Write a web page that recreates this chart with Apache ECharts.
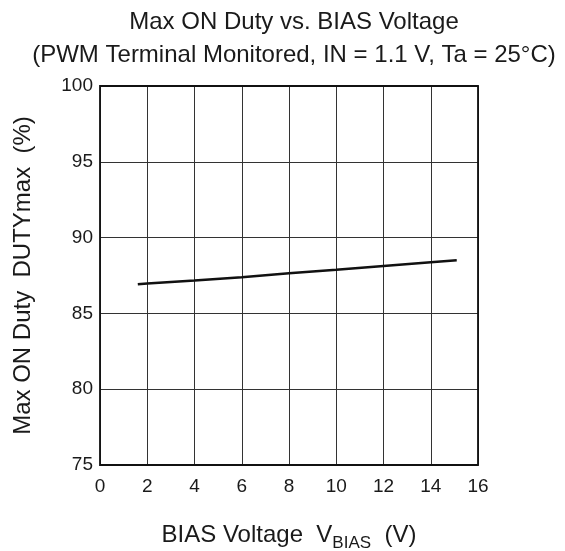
<!DOCTYPE html>
<html>
<head>
<meta charset="utf-8">
<script src="https://cdn.jsdelivr.net/npm/echarts@6/dist/echarts.min.js"></script>
<style>html,body{margin:0;padding:0;background:#fff;overflow:hidden;}#c{width:565px;height:551px;}</style>
</head>
<body>
<div id="c"></div>
<script>
const biasVoltage = [1.6, 2, 4, 6, 8, 10, 12, 14, 15.1];
const maxDuty = [86.92, 86.98, 87.17, 87.39, 87.65, 87.88, 88.13, 88.38, 88.5];
const xTicks = [0, 2, 4, 6, 8, 10, 12, 14, 16];
const yTicks = [75, 80, 85, 90, 95, 100];

const FONT = '"Liberation Sans", Arial, sans-serif';
const chart = echarts.init(document.getElementById('c'), null, {renderer: 'canvas', width: 565, height: 551});
chart.setOption({
  animation: false,
  backgroundColor: '#fff',
  title: {
    text: 'Max ON Duty vs. BIAS Voltage\n(PWM Terminal Monitored, IN = 1.1 V, Ta = 25°C)',
    left: 289, top: 1, textAlign: 'center',
    textStyle: {fontFamily: FONT, fontSize: 24, fontWeight: 'normal', color: '#1a1a1a', lineHeight: 33, align: 'center'}
  },
  grid: {left: 100, top: 86, width: 378, height: 379, containLabel: false, outerBoundsMode: 'none'},
  xAxis: {
    type: 'value', min: xTicks[0], max: xTicks[xTicks.length - 1], interval: 2,
    name: '{a|BIAS Voltage  V}{s|BIAS}{a|  (V)}',
    nameLocation: 'middle', nameGap: 52,
    nameTextStyle: {
      rich: {
        a: {fontFamily: FONT, fontSize: 24, color: '#1a1a1a', verticalAlign: 'bottom', lineHeight: 30},
        s: {fontFamily: FONT, fontSize: 17, color: '#1a1a1a', verticalAlign: 'bottom', lineHeight: 22, padding: [0, 0, -5, 0]}
      }
    },
    axisLine: {show: false},
    axisTick: {show: false},
    axisLabel: {fontFamily: FONT, fontSize: 19, color: '#1a1a1a', margin: 12},
    splitLine: {show: true, lineStyle: {color: '#333', width: 1}}
  },
  yAxis: {
    type: 'value', min: yTicks[0], max: yTicks[yTicks.length - 1], interval: 5,
    name: 'Max ON Duty  DUTYmax  (%)',
    nameLocation: 'middle', nameRotate: 90, nameGap: 65,
    nameTextStyle: {fontFamily: FONT, fontSize: 24, color: '#1a1a1a'},
    axisLine: {show: false},
    axisTick: {show: false},
    axisLabel: {fontFamily: FONT, fontSize: 19, color: '#1a1a1a', margin: 7},
    splitLine: {show: true, lineStyle: {color: '#333', width: 1}}
  },
  series: [{
    type: 'line',
    data: biasVoltage.map((v, i) => [v, maxDuty[i]]),
    showSymbol: false, symbol: 'none',
    lineStyle: {color: '#111', width: 2.5}
  }],
  graphic: [{
    type: 'rect', shape: {x: 100, y: 86, width: 378, height: 379},
    style: {fill: 'none', stroke: '#111', lineWidth: 1.8}, silent: true, z: 10
  }]
});
</script>
</body>
</html>
